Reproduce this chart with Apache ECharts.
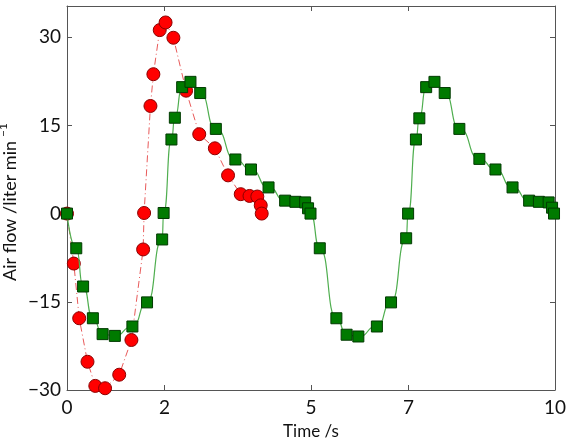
<!DOCTYPE html>
<html>
<head>
<meta charset="utf-8">
<script src="https://cdn.jsdelivr.net/npm/echarts@6/dist/echarts.min.js"></script>
<style>
  html, body { margin: 0; padding: 0; background: #fff; }
  #main { width: 567px; height: 438px; }
</style>
</head>
<body>
<div id="main"></div>
<script>
// red circles, dash-dot line
var redTime = [0, 0.14, 0.25, 0.42, 0.58, 0.78, 1.07, 1.32, 1.56, 1.58, 1.71, 1.77, 1.90, 2.02, 2.18, 2.44, 2.71, 3.03, 3.30, 3.56, 3.74, 3.90, 3.97, 3.99];
var redFlow = [0, -8.5, -17.8, -25.2, -29.3, -29.7, -27.4, -21.5, -6.1, 0.1, 18.3, 23.7, 31.2, 32.5, 29.9, 20.9, 13.5, 11.1, 6.5, 3.3, 3.0, 2.9, 1.4, 0];

// green squares, smooth solid line
var greenTime = [0, 0.19, 0.33, 0.53, 0.73, 0.98, 1.34, 1.64, 1.95, 1.98, 2.14, 2.21, 2.36, 2.53, 2.73, 3.05, 3.45, 3.77, 4.13, 4.47, 4.68, 4.88, 4.94, 4.99,
                 5.18, 5.52, 5.73, 5.97, 6.35, 6.64, 6.95, 6.99, 7.15, 7.22, 7.36, 7.53, 7.74, 8.04, 8.45, 8.78, 9.13, 9.47, 9.67, 9.87, 9.94, 9.98];
var greenFlow = [0, -5.9, -12.4, -17.8, -20.5, -20.8, -19.2, -15.1, -4.4, 0.1, 12.6, 16.3, 21.5, 22.4, 20.5, 14.4, 9.2, 7.5, 4.45, 2.2, 2.0, 1.9, 0.9, 0,
                 -5.9, -17.8, -20.6, -20.9, -19.2, -15.1, -4.2, 0, 12.6, 16.2, 21.5, 22.4, 20.5, 14.4, 9.3, 7.5, 4.45, 2.2, 2.0, 1.9, 1.0, 0];

var xTicks = [0, 2, 5, 7, 10];
var yTicks = [-30, -15, 0, 15, 30];

function pairs(xs, ys) {
  var out = [];
  for (var i = 0; i < xs.length; i++) out.push([xs[i], ys[i]]);
  return out;
}

var axisColor = '#555';
var font = 'Lato, "Open Sans", sans-serif';

var chart = echarts.init(document.getElementById('main'));
var option = {
  animation: false,
  grid: { left: 67, right: 12, top: 6, bottom: 48, containLabel: false, outerBoundsMode: 'none' },
  xAxis: [
    {
      type: 'value', min: 0, max: 10,
      name: 'Time /s', nameLocation: 'middle', nameGap: 33, nameMoveOverlap: false,
      nameTextStyle: { fontFamily: font, fontSize: 17, color: '#111' },
      axisLine: { onZero: false, lineStyle: { color: axisColor } },
      axisTick: { inside: true, length: 5, customValues: xTicks, lineStyle: { color: axisColor } },
      axisLabel: { customValues: xTicks, fontFamily: font, fontSize: 19, color: '#111', margin: 8 },
      splitLine: { show: false }
    },
    {
      type: 'value', min: 0, max: 10, position: 'top',
      axisLine: { show: true, onZero: false, lineStyle: { color: axisColor } },
      axisTick: { show: true, inside: true, length: 5, customValues: xTicks, lineStyle: { color: axisColor } },
      axisLabel: { show: false },
      splitLine: { show: false }
    }
  ],
  yAxis: [
    {
      type: 'value', min: -30, max: 35.3,
      name: 'Air flow /liter min{sup|\u22121}', nameLocation: 'middle', nameGap: 44, nameRotate: 90,
      nameMoveOverlap: false,
      nameTextStyle: {
        fontFamily: font, fontSize: 18, color: '#111', padding: [0, 8, 0, 0],
        rich: { sup: { fontFamily: font, fontSize: 12, color: '#111', verticalAlign: 'top', padding: [0, 0, 14, 4] } }
      },
      axisLine: { show: true, onZero: false, lineStyle: { color: axisColor } },
      axisTick: { show: true, inside: true, length: 5, customValues: yTicks, lineStyle: { color: axisColor } },
      axisLabel: {
        customValues: yTicks, fontFamily: font, fontSize: 19, color: '#111', margin: 6,
        formatter: function (v) { return String(v).replace('-', '\u2212'); }
      },
      splitLine: { show: false }
    },
    {
      type: 'value', min: -30, max: 35.3, position: 'right',
      axisLine: { show: true, onZero: false, lineStyle: { color: axisColor } },
      axisTick: { show: true, inside: true, length: 5, customValues: yTicks, lineStyle: { color: axisColor } },
      axisLabel: { show: false },
      splitLine: { show: false }
    }
  ],
  series: [
    {
      name: 'red', type: 'line',
      data: pairs(redTime, redFlow),
      symbol: 'circle', symbolSize: 13,
      itemStyle: { color: '#ff0000', borderColor: '#8a0000', borderWidth: 1 },
      lineStyle: { color: '#e85a5a', width: 1, type: [7, 3, 1, 3] },
      z: 2
    },
    {
      name: 'green', type: 'line',
      data: pairs(greenTime, greenFlow),
      smooth: 0.6, smoothMonotone: 'x',
      symbol: 'rect', symbolSize: 11,
      itemStyle: { color: '#007a00', borderColor: '#003a00', borderWidth: 1 },
      lineStyle: { color: '#4fae4f', width: 1.2 },
      z: 3
    }
  ]
};
option && chart.setOption(option);
</script>
</body>
</html>
